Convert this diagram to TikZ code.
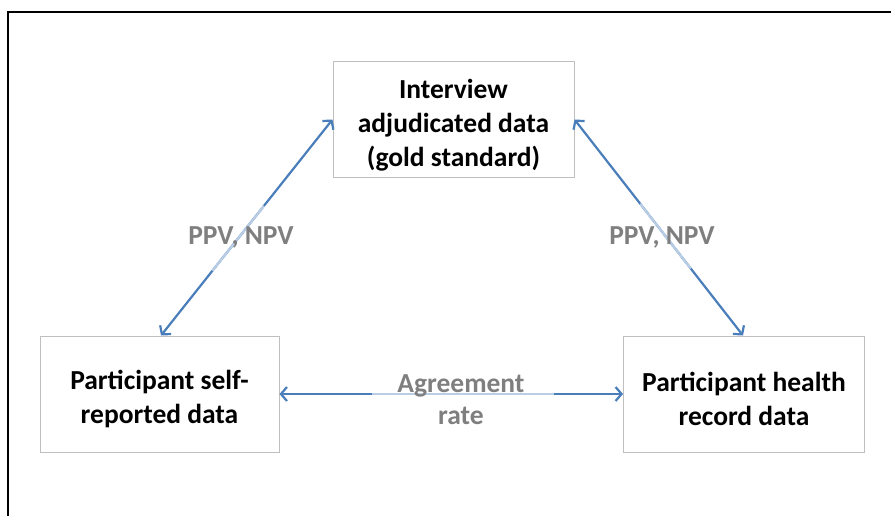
\documentclass[tikz,border=0pt]{standalone}
\usepackage{fontspec}
\setmainfont{Carlito}
\usetikzlibrary{arrows.meta,calc}
\definecolor{arrowblue}{HTML}{4A7EBB}
\definecolor{lightblue}{HTML}{B9CDE5}
\definecolor{boxgray}{HTML}{BFBFBF}
\definecolor{labelgray}{HTML}{7F7F7F}
\tikzset{
  databox/.style={draw=boxgray, line width=1pt, fill=white, minimum width=241pt, minimum height=116pt, inner sep=0pt},
  boxtext/.style={align=center, font=\fontsize{27.5}{34}\selectfont\bfseries, text=black, inner sep=0pt},
  biarrow/.style={draw=arrowblue, line width=2.2pt, {Straight Barb[length=6pt,width=14pt]}-{Straight Barb[length=6pt,width=14pt]}},
  fadeseg/.style={draw=lightblue, line width=2.2pt},
  measure/.style={text=labelgray, font=\fontsize{27.5}{32}\selectfont\bfseries, align=center, inner sep=0pt},
}
\begin{document}
\begin{tikzpicture}[x=1pt,y=-1pt]
\useasboundingbox (0,0) rectangle (891,515);
\draw[line width=2pt] (7.5,516) -- (7.5,12) -- (892,12);
\node[databox] (T) at (453.5,119.5) {};
\node[databox, minimum width=239pt] (L) at (159.5,394) {};
\node[databox] (R) at (744,394) {};
\node[boxtext] (Tt) at ([yshift=-6pt]T.center) {Interview\\adjudicated data\\(gold standard)};
\node[boxtext] (Lt) at ([yshift=-4.5pt]L.center) {Participant self-\\reported data};
\node[boxtext] (Rt) at ([yshift=-4.5pt]R.center) {Participant health\\record data};
\draw[biarrow] ([xshift=1.5pt]L.north) -- (T.west);
\draw[fadeseg] ($([xshift=1.5pt]L.north)!0.3!(T.west)$) -- ($([xshift=1.5pt]L.north)!0.6!(T.west)$);
\draw[biarrow] (T.east) -- ([xshift=-1pt]R.north);
\draw[fadeseg] ($(T.east)!0.39!([xshift=-1pt]R.north)$) -- ($(T.east)!0.69!([xshift=-1pt]R.north)$);
\draw[biarrow] (L.east) -- (R.west);
\draw[fadeseg] ($(L.east)!0.27!(R.west)$) -- ($(L.east)!0.8!(R.west)$);
\node[measure] (p1) at (241,237) {PPV, NPV};
\node[measure] (p2) at (662,237) {PPV, NPV};
\node[measure] (ag) at (461,399.5) {Agreement\\rate};
\end{tikzpicture}
\end{document}
